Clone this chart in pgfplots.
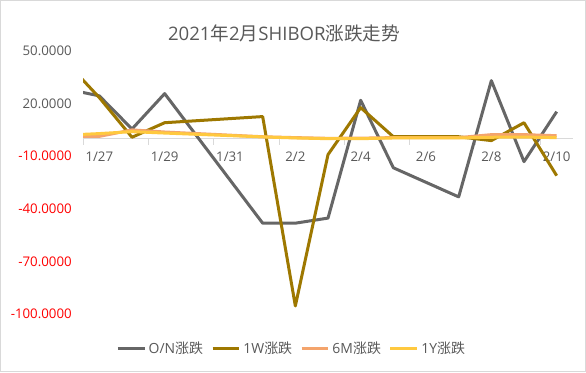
\documentclass[border=0pt]{standalone}
\usepackage{pgfplots}
\pgfplotsset{compat=1.18}
\usepackage{fontspec}
\setmainfont{Open Sans}
\newfontfamily\cjk{Noto Sans CJK SC}
\definecolor{txt}{HTML}{595959}
\definecolor{bord}{HTML}{D9D9D9}
\definecolor{cON}{HTML}{666666}
\definecolor{cW}{HTML}{9E7800}
\definecolor{cM}{HTML}{F4A46C}
\definecolor{cY}{HTML}{FFC93F}
\definecolor{neg}{HTML}{FF0000}
\begin{document}
\begin{tikzpicture}[x=1bp,y=1bp]
\useasboundingbox (0,0) rectangle (439.5,279);
\fill[white] (0,0) rectangle (439.5,279);
\draw[bord, line width=0.75bp] (0.375,0.375) rectangle (439.125,278.625);
\begin{axis}[
  at={(62.25bp,43.5bp)}, anchor=south west,
  scale only axis, width=367.5bp, height=197.25bp,
  xmin=-0.5, xmax=14.5, ymin=-100, ymax=50,
  axis x line=middle, axis y line=left, separate axis lines,
  x axis line style={-, draw=bord, line width=0.75bp},
  y axis line style={draw=none},
  /pgf/number format/assume math mode=true,
  xtick={0,2,...,14},
  xticklabels={1/27,1/29,1/31,2/2,2/4,2/6,2/8,2/10},
  minor xtick={-0.5,1.5,...,14.5},
  xtick align=outside,
  major tick length=0pt, minor tick length=4.5bp,
  minor x tick style={draw=bord, line width=0.75bp},
  major x tick style={draw=none},
  ytick={-100,-70,-40,-10,20,50},
  yticklabels={{\color{neg}-100.0000},{\color{neg}-70.0000},{\color{neg}-40.0000},{\color{neg}-10.0000},20.0000,50.0000},
  ytick style={draw=none},
  yticklabel style={inner sep=0pt, anchor=east, xshift=-8.25bp, text=txt, font=\fontsize{10}{12}\selectfont},
  xticklabel style={inner sep=0pt, anchor=north, yshift=-10bp, text=txt, font=\fontsize{10}{12}\selectfont},
  clip=true,
  legend style={at={(0.4265,-0.133)}, anchor=center, legend columns=-1, draw=none, fill=none,
     font=\fontsize{10.5}{12}\selectfont, text=txt,
     /tikz/every even column/.append style={column sep=4bp}},
  legend image code/.code={\draw[#1, line width=2.25bp] (0,0) -- (20bp,0);},
  every axis plot/.append style={line width=2.25bp, line join=round, no markers},
]
\addplot[cON] coordinates {(-1,28.3) (0,24.4) (1,5.5) (2,25.7) (5,-48.2) (6,-48.2) (7,-45.3) (8,21.9) (9,-16.6) (11,-33.2) (12,33.1) (13,-13.1) (14,15.4)};
\addplot[cW] coordinates {(-1,43.4) (0,23.4) (1,0.8) (2,9.1) (5,12.6) (6,-95.4) (7,-9.1) (8,17.7) (9,1.1) (11,1.1) (12,-1.1) (13,9.1) (14,-21.1)};
\addplot[cM] coordinates {(-1,1.3) (0,1.3) (1,5.0) (2,3.8) (5,1.1) (6,0.6) (7,0.2) (8,0.3) (9,0.6) (11,0.6) (12,2.3) (13,2.3) (14,1.7)};
\addplot[cY] coordinates {(-1,2.0) (0,2.9) (1,4.0) (2,3.2) (5,1.0) (6,0.4) (7,0.0) (8,0.0) (9,0.4) (11,0.4) (12,0.8) (13,0.9) (14,0.6)};
\legend{O/N{\cjk 涨跌},1W{\cjk 涨跌},6M{\cjk 涨跌},1Y{\cjk 涨跌}}
\end{axis}
\node[text=txt, font=\fontsize{14}{16}\selectfont, inner sep=0pt] at (213,254.25) {2021{\cjk 年}2{\cjk 月}SHIBOR{\cjk 涨跌走势}};
\end{tikzpicture}
\end{document}
